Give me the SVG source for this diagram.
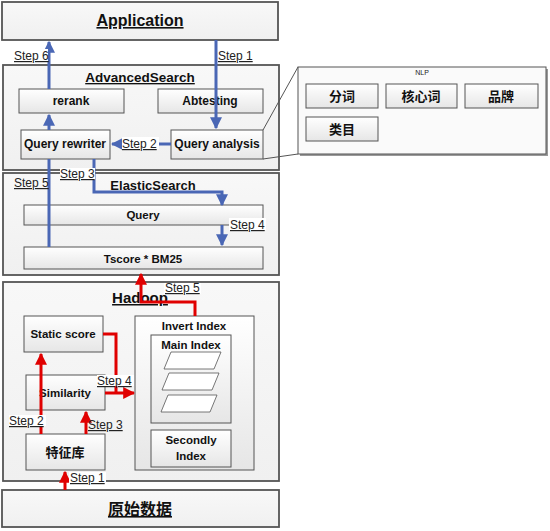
<svg xmlns="http://www.w3.org/2000/svg" width="550" height="531" viewBox="0 0 550 531">
<defs>
<linearGradient id="g" x1="0" y1="0" x2="0" y2="1">
<stop offset="0" stop-color="#ffffff"/><stop offset="1" stop-color="#e6e6e6"/>
</linearGradient>
<linearGradient id="go" x1="0" y1="0" x2="0" y2="1">
<stop offset="0" stop-color="#f8f8f8"/><stop offset="1" stop-color="#f0f0f0"/>
</linearGradient>
<marker id="ab" viewBox="0 0 10 10" refX="9" refY="5" markerWidth="4" markerHeight="4" orient="auto"><path d="M0,0 L10,5 L0,10 z" fill="#4a67b5"/></marker>
<marker id="ar" viewBox="0 0 10 10" refX="9" refY="5" markerWidth="4" markerHeight="4" orient="auto"><path d="M0,0 L10,5 L0,10 z" fill="#e00000"/></marker>
</defs>
<style>
.outer{fill:url(#go);stroke:#555;stroke-width:1.8}
.box{fill:url(#g);stroke:#555;stroke-width:1}
.t{font-family:"Liberation Sans",Arial,sans-serif;font-weight:bold;fill:#111;text-anchor:middle}
.c{font-family:"Noto Sans CJK SC",sans-serif;font-weight:bold;fill:#111;text-anchor:middle}
.s{font-family:"Liberation Sans",Arial,sans-serif;font-size:12px;fill:#222;text-decoration:underline}
.bl{fill:none;stroke:#4a67b5;stroke-width:3}
.rd{fill:none;stroke:#e00000;stroke-width:3}
.cl{fill:none;stroke:#555;stroke-width:1}
</style>

<g id="application">
<rect class="outer" x="2" y="2" width="276" height="38"/>
<text class="t" x="140" y="26" font-size="16" text-decoration="underline">Application</text>
</g>

<g id="advancedsearch">
<rect class="outer" x="3" y="65" width="276" height="105"/>
<text class="t" x="140" y="82" font-size="13.5" text-decoration="underline">AdvancedSearch</text>
</g>
<g id="rerank"><rect class="box" x="19" y="89" width="105" height="24"/><text class="t" x="71" y="105" font-size="12">rerank</text></g>
<g id="abtesting"><rect class="box" x="158" y="89" width="105" height="24"/><text class="t" x="210" y="105" font-size="12">Abtesting</text></g>
<g id="query-rewriter"><rect class="box" x="21" y="130" width="89" height="29"/><text class="t" x="65" y="148" font-size="12">Query rewriter</text></g>
<g id="query-analysis"><rect class="box" x="171" y="130" width="92" height="29"/><text class="t" x="217" y="148" font-size="12">Query analysis</text></g>

<g id="nlp">
<rect x="300" y="69" width="248" height="87" fill="#999"/>
<rect x="298" y="67" width="248" height="87" fill="#fafafa" stroke="#555" stroke-width="1"/>
<text x="422" y="75" font-family="Liberation Sans,Arial,sans-serif" font-size="7" text-anchor="middle" fill="#222">NLP</text>
</g>
<g id="fenci"><rect class="box" x="306" y="84" width="72" height="24"/><text class="c" x="342" y="101" font-size="13">分词</text></g>
<g id="hexinci"><rect class="box" x="386" y="84" width="71" height="24"/><text class="c" x="421" y="101" font-size="13">核心词</text></g>
<g id="pinpai"><rect class="box" x="465" y="84" width="73" height="24"/><text class="c" x="501" y="101" font-size="13">品牌</text></g>
<g id="leimu"><rect class="box" x="306" y="117" width="72" height="24"/><text class="c" x="342" y="134" font-size="13">类目</text></g>

<g id="elasticsearch">
<rect class="outer" x="3" y="173" width="276" height="102"/>
<text class="t" x="153" y="190" font-size="13" text-decoration="underline">ElasticSearch</text>
</g>
<g id="query"><rect class="box" x="24" y="205" width="239" height="20"/><text class="t" x="143" y="219" font-size="11.5">Query</text></g>
<g id="tscore"><rect class="box" x="24" y="247" width="239" height="22"/><text class="t" x="143" y="263" font-size="11.5">Tscore * BM25</text></g>

<g id="hadoop">
<rect class="outer" x="3" y="282" width="276" height="199"/>
<text class="t" x="140" y="303" font-size="15" text-decoration="underline">Hadoop</text>
</g>
<g id="static-score"><rect class="box" x="24" y="316" width="79" height="36"/><text class="t" x="63" y="338" font-size="11.5">Static score</text></g>
<g id="similarity"><rect class="box" x="26" y="375" width="79" height="35"/><text class="t" x="65" y="397" font-size="11.5">Similarity</text></g>
<g id="tezhengku"><rect class="box" x="26" y="434" width="79" height="36"/><text class="c" x="65" y="457" font-size="13">特征库</text></g>
<g id="invert-index">
<rect class="box" x="135" y="316" width="119" height="154" fill="#fbfbfb"/>
<text class="t" x="194" y="330" font-size="11.5">Invert Index</text>
</g>
<g id="main-index">
<rect class="box" x="151" y="335" width="80" height="88"/>
<text class="t" x="191" y="349" font-size="11.5">Main Index</text>
<polygon points="171,352 221,352 214,369 164,369" fill="#fff" stroke="#555" stroke-width="0.8"/>
<polygon points="169,373 219,373 212,390 162,390" fill="#fff" stroke="#555" stroke-width="0.8"/>
<polygon points="168,395 217,395 210,412 161,412" fill="#fff" stroke="#555" stroke-width="0.8"/>
</g>
<g id="secondly-index"><rect class="box" x="151" y="430" width="80" height="37"/><text class="t" x="191" y="444" font-size="11.5">Secondly</text><text class="t" x="191" y="460" font-size="11.5">Index</text></g>

<g id="raw-data">
<rect class="outer" x="2" y="490" width="277" height="37"/>
<text class="c" x="140" y="515" font-size="16" text-decoration="underline">原始数据</text>
</g>

<g id="connectors">
<line class="cl" x1="263" y1="130" x2="298" y2="67"/>
<line class="cl" x1="263" y1="159" x2="298" y2="154"/>
<line class="bl" x1="216" y1="40" x2="216" y2="128" marker-end="url(#ab)"/>
<line class="bl" x1="49" y1="89" x2="49" y2="42" marker-end="url(#ab)"/>
<line class="bl" x1="49" y1="130" x2="49" y2="115" marker-end="url(#ab)"/>
<line class="bl" x1="171" y1="144" x2="112" y2="144" marker-end="url(#ab)"/>
<polyline class="bl" points="94,159 94,192 222,192 222,205" marker-end="url(#ab)"/>
<line class="bl" x1="49" y1="247" x2="49" y2="159"/>
<line class="bl" x1="222" y1="225" x2="222" y2="245" marker-end="url(#ab)"/>
<polyline class="rd" points="195,316 195,302 141,302 141,274" marker-end="url(#ar)"/>
<line class="rd" x1="65" y1="490" x2="65" y2="472" marker-end="url(#ar)"/>
<line class="rd" x1="41" y1="434" x2="41" y2="354" marker-end="url(#ar)"/>
<line class="rd" x1="86" y1="434" x2="86" y2="412" marker-end="url(#ar)"/>
<polyline class="rd" points="103,334 116,334 116,393"/>
<line class="rd" x1="105" y1="393" x2="134" y2="393" marker-end="url(#ar)"/>
</g>

<g id="labels">
<rect x="14" y="49" width="34" height="12" fill="#fff"/>
<text class="s" x="14" y="60">Step 6</text>
<text class="s" x="218" y="60">Step 1</text>
<rect x="122" y="137" width="37" height="12" fill="#fff"/>
<text class="s" x="122" y="148">Step 2</text>
<rect x="60" y="168" width="35" height="12" fill="#fff"/>
<text class="s" x="60" y="178">Step 3</text>
<text class="s" x="14" y="187">Step 5</text>
<rect x="229" y="218" width="37" height="12" fill="#fff"/>
<text class="s" x="230" y="229">Step 4</text>
<rect x="164" y="283" width="37" height="11" fill="#fff"/>
<text class="s" x="165" y="292">Step 5</text>
<rect x="97" y="375" width="37" height="11" fill="#fff"/>
<text class="s" x="97" y="385">Step 4</text>
<rect x="9" y="415" width="37" height="11" fill="#fff"/>
<text class="s" x="9" y="425">Step 2</text>
<text class="s" x="88" y="429">Step 3</text>
<rect x="69" y="472" width="37" height="11" fill="#fff"/>
<text class="s" x="70" y="482">Step 1</text>
</g>
</svg>
